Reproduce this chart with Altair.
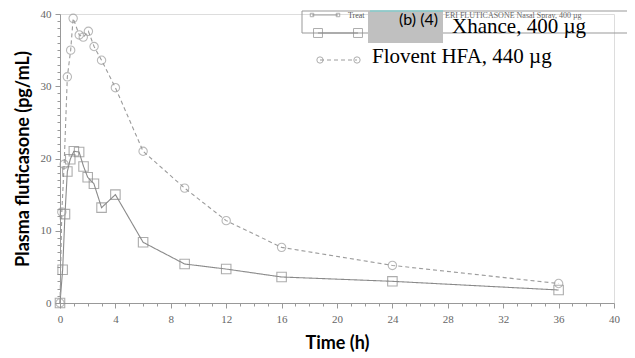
import altair as alt
import pandas as pd

# ---- data ----
xhance_t = [0, 0.19, 0.36, 0.53, 0.74, 1.0, 1.38, 1.7, 2.0, 2.45, 3.0, 4.0, 6, 9, 12, 16, 24, 36]
xhance_v = [0, 4.6, 12.3, 18.2, 19.9, 21.0, 20.9, 18.9, 17.4, 16.5, 13.2, 15.0, 8.4, 5.4, 4.7, 3.6, 3.0, 1.8]
flovent_t = [0, 0.13, 0.3, 0.53, 0.77, 0.95, 1.39, 1.68, 2.05, 2.46, 3.0, 4.0, 6, 9, 12, 16, 24, 36]
flovent_v = [0, 12.6, 19.2, 31.3, 35.0, 39.4, 37.1, 36.8, 37.6, 35.5, 33.6, 29.8, 21.0, 15.9, 11.4, 7.7, 5.2, 2.7]
series_names = ["Xhance, 400 µg", "Flovent HFA, 440 µg"]
x_ticks = list(range(0, 41))
y_ticks = list(range(0, 41))

rows = []
for t, v in zip(xhance_t, xhance_v):
    rows.append({"time": t, "conc": v, "series": series_names[0]})
for t, v in zip(flovent_t, flovent_v):
    rows.append({"time": t, "conc": v, "series": series_names[1]})
df = pd.DataFrame(rows)

GREY = "#8c8c8c"

x_axis = alt.Axis(
    values=x_ticks,
    labelExpr="datum.value % 4 === 0 ? datum.label : ''",
    labelOverlap=False, labelBound=False, labelFlush=False,
    labelFont="Liberation Serif", labelFontSize=11, labelColor="#666",
    labelPadding=5,
    domainColor="#999", tickColor="#999",
    tickSize={"condition": {"test": "datum.value % 4 === 0", "value": 5}, "value": 3},
    grid=False,
    title="Time (h)", titleFont="Lato", titleFontSize=18, titleFontWeight="bold",
    titleColor="#000", titlePadding=10,
)
y_axis = alt.Axis(
    values=y_ticks,
    labelExpr="datum.value % 10 === 0 ? datum.label : ''",
    labelOverlap=False, labelBound=False, labelFlush=False,
    labelFont="Liberation Serif", labelFontSize=11, labelColor="#666",
    labelPadding=4,
    domainColor="#999", tickColor="#999",
    tickSize={"condition": {"test": "datum.value % 10 === 0", "value": 5}, "value": 3},
    grid=False,
    title="Plasma fluticasone (pg/mL)", titleFont="Lato", titleFontSize=18,
    titleFontWeight="bold", titleColor="#000", titlePadding=8,
)

xs = alt.Scale(domain=[0, 40], nice=False)
ys = alt.Scale(domain=[0, 40], nice=False)

base = alt.Chart(df).encode(
    x=alt.X("time:Q", scale=xs, axis=x_axis),
    y=alt.Y("conc:Q", scale=ys, axis=y_axis),
)

lines = base.mark_line(strokeWidth=1.1).encode(
    color=alt.Color("series:N", scale=alt.Scale(domain=series_names, range=["#8a8a8a", "#9c9c9c"]), legend=None),
    strokeDash=alt.StrokeDash("series:N", scale=alt.Scale(domain=series_names, range=[[1, 0], [4, 3]]), legend=None),
)
points = base.mark_point(filled=False, strokeWidth=1.1).encode(
    shape=alt.Shape("series:N", scale=alt.Scale(domain=series_names, range=["square", "circle"]), legend=None),
    size=alt.Size("series:N", scale=alt.Scale(domain=series_names, range=[90, 70]), legend=None),
    color=alt.Color("series:N", scale=alt.Scale(domain=series_names, range=["#8a8a8a", "#9c9c9c"]), legend=None),
)

one = pd.DataFrame({"k": [0]})

def rule(x1, x2, y, color=GREY, dash=None, width=1.0):
    kw = {"color": color, "strokeWidth": width}
    if dash is not None:
        kw["strokeDash"] = dash
    return alt.Chart(one).mark_rule(**kw).encode(x=alt.value(x1), x2=alt.value(x2), y=alt.value(y))

def pt(x, y, shape, size):
    return alt.Chart(one).mark_point(shape=shape, size=size, filled=False, color=GREY, strokeWidth=1.0).encode(
        x=alt.value(x), y=alt.value(y))

def txt(x, y, text, font, size, color="#000", weight="normal", baseline="alphabetic"):
    return alt.Chart(one).mark_text(text=text, font=font, fontSize=size, color=color, fontWeight=weight,
                                     align="left", baseline=baseline).encode(x=alt.value(x), y=alt.value(y))

legend_box = alt.Chart(one).mark_rect(fill="white", fillOpacity=0, stroke="#999", strokeWidth=1).encode(
    x=alt.value(242), x2=alt.value(575), y=alt.value(-3), y2=alt.value(19))

gray_box = alt.Chart(one).mark_rect(fill="#c0c0c0").encode(
    x=alt.value(308), x2=alt.value(383), y=alt.value(-3), y2=alt.value(29))

annot = [
    legend_box,
    rule(252, 278, 1, width=0.8), pt(252, 1, "square", 12), pt(278, 1, "square", 12),
    txt(288, 4, "Treat", "Liberation Serif", 8, color="#555"),
    txt(385, 4, "ERI FLUTICASONE Nasal Spray, 400 µg", "Liberation Serif", 8, color="#666"),
    gray_box,
    rule(310, 383, -3, color="#66d0d0", width=1.2),
    txt(339, 11, "(b) (4)", "Lato", 16),
    txt(392, 19, "Xhance, 400 µg", "Liberation Serif", 21),
    rule(258, 298, 19), pt(258, 19, "square", 80), pt(298, 19, "square", 80),
    txt(312, 49, "Flovent HFA, 440 µg", "Liberation Serif", 21),
    rule(260, 297, 46, color="#9c9c9c", dash=[4, 3]), pt(260, 46, "circle", 40), pt(297, 46, "circle", 40),
]

chart = alt.layer(lines, points, *annot).properties(
    width=554, height=289,
    autosize=alt.AutoSizeParams(type="none"),
    padding={"left": 52, "top": 6, "right": 13, "bottom": 54},
).configure_view(stroke=None).configure(background="white")

chart.save("out.html", embed_options={"renderer": "svg", "actions": False})
